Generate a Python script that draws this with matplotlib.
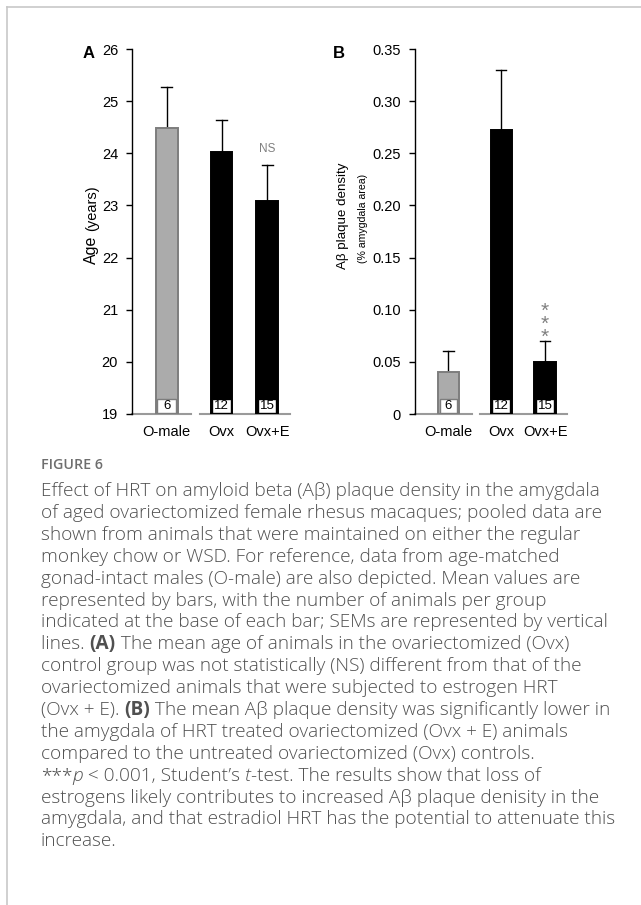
import matplotlib
matplotlib.use('Agg')
import matplotlib.pyplot as plt
from matplotlib.patches import Rectangle
from matplotlib.lines import Line2D

# group means / SEM, n per group
groups = ['O-male', 'Ovx', 'Ovx+E']
n_animals = [6, 12, 15]
age_mean = [24.48, 24.03, 23.09]
age_sem = [0.80, 0.61, 0.69]
plaque_mean = [0.040, 0.272, 0.050]
plaque_sem = [0.020, 0.058, 0.020]
plaque_ticks = [0, 0.05, 0.10, 0.15, 0.20, 0.25, 0.30, 0.35]
plaque_ticklabels = ['0', '0.05', '0.10', '0.15', '0.20', '0.25', '0.30', '0.35']
age_ticks = [19, 20, 21, 22, 23, 24, 25, 26]

W, H = 641, 905
xpos = [0, 1.2, 2.2]
bar_w = 0.48
face = ['#ababab', 'black', 'black']
edge = ['#7d7d7d', 'black', 'black']

plt.rcParams['font.family'] = ['Liberation Sans', 'DejaVu Sans']

fig = plt.figure(figsize=(W / 100, H / 100), dpi=100)
renderer = fig.canvas.get_renderer()


def px(x, y):
    return x / W, 1 - y / H


def text_width(s, **kw):
    # advance width incl. leading/trailing blanks
    t1 = fig.text(0, 0, '|' + s + '|', **kw)
    t2 = fig.text(0, 0, '||', **kw)
    w = t1.get_window_extent(renderer).width - t2.get_window_extent(renderer).width
    t1.remove()
    t2.remove()
    return w


def panel(rect, means, sems, ylim, yticks, yticklabels):
    ax = fig.add_axes(rect)
    y0 = ylim[0]
    span = ylim[1] - ylim[0]
    ax.bar(xpos, [m - y0 for m in means], bottom=y0, width=bar_w,
           color=face, edgecolor=edge, linewidth=1.4, zorder=2)
    # upper SEM whiskers
    for x, m, s in zip(xpos, means, sems):
        ax.plot([x, x], [m, m + s], color='black', lw=1, zorder=1)
        ax.plot([x - 0.12, x + 0.12], [m + s, m + s], color='black', lw=1, zorder=1)
    # n boxes at bar bases
    bh = span * 0.039
    bw = bar_w * 0.84
    for x, n, ec in zip(xpos, n_animals, edge):
        ax.add_patch(Rectangle((x - bw / 2, y0 + span * 0.003), bw, bh,
                               facecolor='white', edgecolor=ec, lw=1, zorder=3))
        ax.text(x, y0 + span * 0.003 + bh / 2, str(n), ha='center', va='center',
                fontsize=9.5, zorder=4)
    xl = (-0.76, 2.7)
    ax.set_xlim(*xl)
    ax.set_ylim(*ylim)
    # grey base line, broken between O-male and the Ovx groups
    ax.plot([xl[0], 0.53], [y0, y0], color='#9a9a9a', lw=1.5, clip_on=False, zorder=1)
    ax.plot([0.72, xl[1]], [y0, y0], color='#9a9a9a', lw=1.5, clip_on=False, zorder=1)
    for s in ['top', 'right', 'bottom']:
        ax.spines[s].set_visible(False)
    ax.spines['left'].set_linewidth(1)
    ax.set_yticks(yticks)
    ax.set_yticklabels(yticklabels, fontsize=10.5)
    ax.tick_params(axis='y', direction='out', length=4, width=1, pad=6)
    ax.set_xticks(xpos)
    ax.set_xticklabels(groups, fontsize=10.5)
    ax.tick_params(axis='x', length=0, pad=8)
    return ax


axA = panel([132 / W, 1 - 414 / H, 158 / W, 365 / H], age_mean, age_sem,
            (19, 26), age_ticks, [str(t) for t in age_ticks])
axB = panel([415 / W, 1 - 414 / H, 152 / W, 365 / H], plaque_mean, plaque_sem,
            (0, 0.35), plaque_ticks, plaque_ticklabels)

# significance marks
axA.annotate('NS', (xpos[2], age_mean[2] + age_sem[2]), xytext=(0, 7),
             textcoords='offset points', ha='center', va='bottom',
             fontsize=8.5, color='#808080')
axB.annotate('*\n*\n*', (xpos[2], plaque_mean[2] + plaque_sem[2]), xytext=(0, -4),
             textcoords='offset points', ha='center', va='bottom',
             fontsize=15, color='#808080', linespacing=0.6)

# panel letters and y labels
fig.text(*px(89, 53), 'A', fontsize=12, fontweight='bold', ha='center', va='center')
fig.text(*px(339, 53), 'B', fontsize=12, fontweight='bold', ha='center', va='center')
age_w = text_width('Age ', fontsize=11.5)
fig.text(*px(96, 264), 'Age', fontsize=11.5, rotation=90, rotation_mode='anchor',
         ha='left', va='baseline')
fig.text(*px(96, 264 - age_w), '(years)', fontsize=10.5, rotation=90,
         rotation_mode='anchor', ha='left', va='baseline')
fig.text(*px(343, 216), 'A\u03b2 plaque density', fontsize=9.6, rotation=90,
         rotation_mode='anchor', ha='center', va='center')
fig.text(*px(363, 218), '(% amygdala area)', fontsize=7.6, rotation=90,
         rotation_mode='anchor', ha='center', va='center')

# outer frame
fig.add_artist(Line2D([7 / W, 7 / W], [0, 1 - 7 / H], color='#c8c8c8', lw=1.2))
fig.add_artist(Line2D([7 / W, 1], [1 - 7 / H, 1 - 7 / H], color='#c8c8c8', lw=1.2))

# caption
cap_font = ['Open Sans', 'DejaVu Sans']
cap_color = '#505050'
cap_size = 13.7
fig.text(*px(41, 465), 'FIGURE 6', fontsize=10.3, fontweight='semibold',
         color='#6e6e6e', family=cap_font, va='center')

caption_lines = [
    [("Effect of HRT on amyloid beta (A\u03b2) plaque density in the amygdala", 'n')],
    [("of aged ovariectomized female rhesus macaques; pooled data are", 'n')],
    [("shown from animals that were maintained on either the regular", 'n')],
    [("monkey chow or WSD. For reference, data from age-matched", 'n')],
    [("gonad-intact males (O-male) are also depicted. Mean values are", 'n')],
    [("represented by bars, with the number of animals per group", 'n')],
    [("indicated at the base of each bar; SEMs are represented by vertical", 'n')],
    [("lines. ", 'n'), ("(A)", 'b'), (" The mean age of animals in the ovariectomized (Ovx)", 'n')],
    [("control group was not statistically (NS) different from that of the", 'n')],
    [("ovariectomized animals that were subjected to estrogen HRT", 'n')],
    [("(Ovx + E). ", 'n'), ("(B)", 'b'), (" The mean A\u03b2 plaque density was significantly lower in", 'n')],
    [("the amygdala of HRT treated ovariectomized (Ovx + E) animals", 'n')],
    [("compared to the untreated ovariectomized (Ovx) controls.", 'n')],
    [("***", 'n'), ("p", 'i'), (" < 0.001, Student\u2019s ", 'n'), ("t", 'i'),
     ("-test. The results show that loss of", 'n')],
    [("estrogens likely contributes to increased A\u03b2 plaque denisity in the", 'n')],
    [("amygdala, and that estradiol HRT has the potential to attenuate this", 'n')],
    [("increase.", 'n')],
]

styles = {'n': dict(fontweight='light'), 'b': dict(fontweight='bold'),
          'i': dict(fontstyle='italic', fontweight='light')}

y = 491
for line in caption_lines:
    x = 41
    for s, st in line:
        kw = dict(fontsize=cap_size, family=cap_font, **styles[st])
        fig.text(*px(x, y), s, color=cap_color, va='center', **kw)
        x += text_width(s, **kw)
    y += 21.9

fig.savefig('out.png', dpi=100)
